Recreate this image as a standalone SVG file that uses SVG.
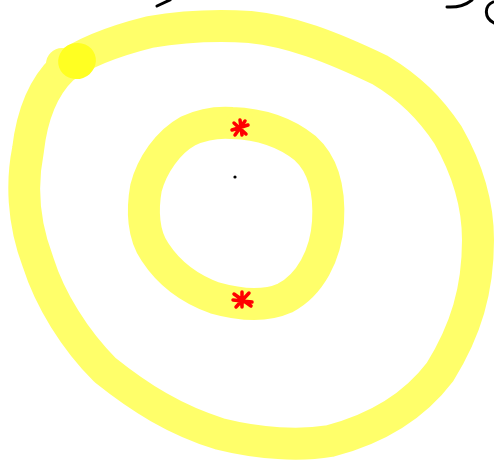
<svg xmlns="http://www.w3.org/2000/svg" width="494" height="460" viewBox="0 0 494 460">
<style>
.ring{fill:none;stroke:#ffff6a;stroke-width:32;stroke-linecap:round;stroke-linejoin:round}
.ink{fill:none;stroke:#000;stroke-width:3;stroke-linecap:round;stroke-linejoin:round}
.star{fill:none;stroke:#ff0000;stroke-width:3.5;stroke-linecap:round}
</style>
<rect width="494" height="460" fill="#fff"/>
<g id="outer-ring">
<path class="ring" d="M63,68 C80,55 110,42 150,32 C185,26 217,25 250,27 C290,31 330,46 380,70 C410,88 430,108 448,135 C468,170 478,205 478,240 C478,290 466,330 440,372 C415,405 380,428 330,441 C300,446 260,444 220,434 C175,420 140,398 105,370 C75,340 50,300 38,262 C22,220 22,180 28,150 C32,115 42,88 63,68 Z"/>
<circle cx="62" cy="64" r="16" fill="#ffff6a"/>
</g>
<g id="inner-ring">
<path class="ring" d="M232,123 C262,124 285,132 305,148 C324,165 330,190 328,222 C326,255 310,285 285,298 C265,307 240,305 215,298 C190,289 170,275 155,252 C143,235 142,210 146,188 C152,165 168,142 188,131 C203,124 218,122 232,123 Z"/>
<circle cx="240" cy="124" r="14" fill="#ffff6a"/>
</g>
<g id="sun">
<ellipse cx="77" cy="61" rx="19" ry="18" fill="#ffff22" transform="rotate(-20 77 61)"/>
</g>
<g id="marker-top">
<path class="star" d="M240,120 L242,135 M232,130 L248,125 M234,123 L246,134 M235,135 L245,121"/>
</g>
<g id="marker-bottom">
<path class="star" d="M242,292 L242,307 M233,300 L252,302 M234,294 L251,306 M236,307 L249,293"/>
</g>
<g id="center-dot">
<circle cx="235" cy="177" r="1.6" fill="#000"/>
</g>
<g id="handwriting">
<path class="ink" d="M157,6 L170,0"/>
<path class="ink" d="M447,7 Q462,8 472,0"/>
<path class="ink" d="M493,2 C484,6 484,18 494,23"/>
</g>
</svg>
